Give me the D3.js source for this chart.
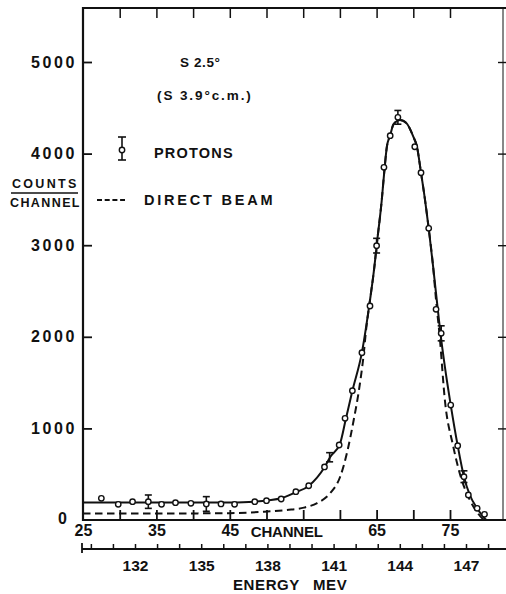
<!DOCTYPE html>
<html>
<head>
<meta charset="utf-8">
<script src="https://cdn.jsdelivr.net/npm/d3@7"></script>
<style>
  html, body { margin: 0; padding: 0; background: #fff; }
  svg { display: block; }
  text { font-family: "Liberation Sans", Arial, sans-serif; font-weight: bold; fill: #111; }
</style>
</head>
<body>
<svg id="chart" width="506" height="594"></svg>
<script>
// Channel (upper) and energy (lower) axis ticks
const channelTicks = [30, 35, 40, 45, 50, 55, 60, 65, 70, 75];
const channelLabels = [25, 35, 45, 65, 75];
const countTicks = [0, 1000, 2000, 3000, 4000, 5000];
const energyTicks = [130, 131, 132, 133, 134, 135, 136, 137, 138, 139, 140, 141, 142, 143, 144, 145, 146, 147, 148];
const energyLabels = [132, 135, 138, 141, 144, 147];

// Measured proton spectrum (counts per channel)
const protonChannel = [27.5, 29.8, 31.75, 33.9, 35.7, 37.6, 39.7, 41.8, 43.8, 45.65,
  48.4, 50.0, 52.0, 54.0, 55.75, 57.9, 59.9, 60.7, 61.7, 63.0, 64.1, 65.0, 66.0,
  66.85, 67.9, 70.2, 71.05, 72.1, 73.1, 73.8, 75.1, 76.05, 76.9, 77.5, 78.7, 79.7];
const protonCounts = [237, 171, 200, 200, 171, 189, 182, 175, 175, 171,
  200, 211, 229, 309, 374, 579, 819, 1110, 1412, 1826, 2336, 2995, 3850,
  4196, 4396, 4075, 3792, 3184, 2300, 2038, 1255, 811, 473, 273, 128, 62];

// Statistical error bars on selected points
const errChannel = [33.9, 41.8, 58.6, 65.0, 67.9, 73.8, 76.9];
const errCounts = [200, 175, 685, 2995, 4396, 2038, 473];
const errSize = [73, 80, 50, 80, 75, 82, 64];

// Smooth curve drawn through the proton points
const fitChannel = [25, 30, 35, 40, 45, 48.3, 50.1, 52, 53.9, 55.75, 57.9, 58.7, 60, 60.8,
  61.7, 63, 64.1, 64.7, 65, 65.7, 66.1, 66.4, 66.85, 67.3, 68.2, 69.1, 70, 70.5, 71.05,
  71.6, 72.1, 72.7, 73.2, 73.7, 74.3, 75.1, 76.05, 76.9, 77.7, 78.7, 79.7, 79.95];
const fitCounts = [190, 190, 190, 190, 192, 200, 215, 237, 300, 372, 575, 690, 830, 1100,
  1410, 1830, 2400, 2765, 2990, 3490, 3850, 4075, 4200, 4320, 4367, 4330, 4184, 4075, 3792,
  3493, 3184, 2765, 2400, 2038, 1674, 1255, 811, 473, 273, 128, 19, 0];

// Direct beam profile (dashed)
const beamChannel = [25, 30, 35, 40, 45, 49.6, 52.8, 55.1, 56.9, 58.7, 60.05, 61, 61.9,
  62.6, 63.2, 63.6, 64.1, 64.7, 65, 65.7, 66.1, 66.4, 66.85, 67.3, 68.2, 69.1, 70, 70.5,
  71.05, 71.6, 72.1, 72.7, 73.1, 73.6, 74.3, 75.4, 76.6, 77.7, 78.8, 79.6];
const beamCounts = [70, 70, 70, 72, 75, 90, 110, 135, 185, 295, 475, 745, 1100,
  1420, 1780, 2100, 2400, 2765, 2990, 3490, 3850, 4075, 4200, 4320, 4367, 4330, 4184, 4075,
  3792, 3493, 3184, 2765, 2400, 2000, 1310, 819, 437, 218, 73, 0];

const svg = d3.select("#chart");

const x = d3.scaleLinear().domain([25, 75]).range([83, 450]);
const y = d3.scaleLinear().domain([0, 5000]).range([520, 62]);
const e = d3.scaleLinear().domain([132, 147]).range([135, 466]);

const frameTop = 8, frameBottom = 520, frameLeft = 83, frameRight = 503;

// Frame
const frame = svg.append("g").attr("stroke", "#111").attr("fill", "none");
frame.append("line").attr("x1", frameLeft).attr("x2", frameLeft).attr("y1", frameTop - 1).attr("y2", frameBottom + 1).attr("stroke-width", 2.2);
frame.append("line").attr("x1", frameLeft).attr("x2", 506).attr("y1", frameTop).attr("y2", frameTop).attr("stroke-width", 2);
frame.append("line").attr("x1", frameLeft).attr("x2", 506).attr("y1", frameBottom).attr("y2", frameBottom).attr("stroke-width", 2.2);
frame.append("line").attr("x1", frameRight).attr("x2", frameRight).attr("y1", frameTop).attr("y2", frameBottom).attr("stroke-width", 1);

function styleAxis(g, fontSize) {
  g.select(".domain").remove();
  g.selectAll(".tick line").attr("stroke", "#111").attr("stroke-width", 1.8);
  g.selectAll(".tick text").attr("fill", "#111")
    .style("font-family", '"Liberation Sans", Arial, sans-serif')
    .style("font-weight", "bold").style("font-size", fontSize + "px");
}

// Left count axis (ticks point inward)
svg.append("g").attr("transform", `translate(${frameLeft},0)`)
  .call(d3.axisLeft(y).tickValues(countTicks.filter(d => d > 0)).tickSizeInner(-9).tickSizeOuter(0).tickPadding(6).tickFormat(d3.format("d")))
  .call(g => styleAxis(g, 16))
  .call(g => g.selectAll(".tick text").style("letter-spacing", "2.6px"));
svg.append("g").attr("transform", `translate(${frameLeft},0)`)
  .call(d3.axisLeft(y).tickValues([0]).tickSize(0).tickPadding(16).tickFormat(d3.format("d")))
  .call(g => styleAxis(g, 16))
  .call(g => g.selectAll(".tick text").attr("dy", "0.2em"));

// Right-side count ticks
svg.append("g").attr("transform", "translate(506,0)")
  .call(d3.axisLeft(y).tickValues(countTicks.filter(d => d > 0)).tickSize(8).tickFormat(""))
  .call(g => styleAxis(g, 12))
  .call(g => g.selectAll(".tick line").attr("stroke-width", 1.4));

// Top channel ticks
svg.append("g").attr("transform", `translate(0,${frameTop})`)
  .call(d3.axisTop(x).tickValues(channelTicks).tickSizeInner(-10).tickFormat(""))
  .call(g => styleAxis(g, 12))
  .call(g => g.selectAll(".tick line").attr("stroke-width", 1.5));

// Bottom channel axis
svg.append("g").attr("transform", `translate(0,${frameBottom})`)
  .call(d3.axisBottom(x).tickValues(channelTicks).tickSizeInner(-10).tickFormat(""))
  .call(g => styleAxis(g, 16));
svg.append("g").attr("transform", `translate(0,${frameBottom})`)
  .call(d3.axisBottom(x).tickValues(channelLabels).tickSize(0).tickPadding(5).tickFormat(d3.format("d")))
  .call(g => styleAxis(g, 16));
svg.append("text").attr("x", x(45) + 21).attr("y", 537)
  .style("font-size", "15px").style("letter-spacing", "-0.2px").text("CHANNEL");

// Energy axis
const energyY = 549;
svg.append("line").attr("x1", 82).attr("x2", 506).attr("y1", energyY).attr("y2", energyY)
  .attr("stroke", "#111").attr("stroke-width", 2);
svg.append("line").attr("x1", 82).attr("x2", 82).attr("y1", energyY - 6).attr("y2", energyY + 4)
  .attr("stroke", "#111").attr("stroke-width", 1.8);
svg.append("g").attr("transform", `translate(0,${energyY})`)
  .call(d3.axisBottom(e).tickValues(energyTicks).tickSizeInner(-5).tickSizeOuter(0).tickPadding(11)
    .tickFormat(d => energyLabels.includes(d) ? d : ""))
  .call(g => styleAxis(g, 15.5))
  .call(g => g.selectAll(".tick line").attr("stroke-width", 1.5));
const eLabel = svg.append("text").attr("x", 233).attr("y", 590).style("font-size", "15px").style("letter-spacing", "0.6px");
eLabel.append("tspan").text("ENERGY");
eLabel.append("tspan").attr("dx", 13).text("MEV");

// Y-axis title as a fraction
svg.append("text").attr("x", 12).attr("y", 188).style("font-size", "12.5px").style("letter-spacing", "2.3px").text("COUNTS");
svg.append("line").attr("x1", 11).attr("x2", 78).attr("y1", 193).attr("y2", 193).attr("stroke", "#111").attr("stroke-width", 1.6);
svg.append("text").attr("x", 10).attr("y", 207).style("font-size", "12.5px").style("letter-spacing", "1.4px").text("CHANNEL");

// Annotations
svg.append("text").attr("x", 180).attr("y", 67).style("font-size", "13.5px").style("letter-spacing", "0.6px").text("S 2.5°");
svg.append("text").attr("x", 157).attr("y", 100).style("font-size", "13.5px").style("letter-spacing", "1.9px").text("(S 3.9°c.m.)");

// Legend
const leg = svg.append("g").attr("stroke", "#111").attr("fill", "none").attr("stroke-width", 1.6);
leg.append("line").attr("x1", 122).attr("x2", 122).attr("y1", 137).attr("y2", 160);
leg.append("line").attr("x1", 118).attr("x2", 126).attr("y1", 137).attr("y2", 137);
leg.append("line").attr("x1", 118).attr("x2", 126).attr("y1", 160).attr("y2", 160);
leg.append("circle").attr("cx", 122).attr("cy", 150).attr("r", 2.7).attr("fill", "#fff").attr("stroke-width", 1.4);
svg.append("text").attr("x", 154).attr("y", 158).style("font-size", "14.5px").style("letter-spacing", "1.2px").text("PROTONS");
leg.append("line").attr("x1", 97).attr("x2", 125).attr("y1", 200).attr("y2", 200).attr("stroke-dasharray", "5,2.7").attr("stroke-width", 1.8);
svg.append("text").attr("x", 144).attr("y", 205).style("font-size", "14.5px").style("letter-spacing", "2.8px").text("DIRECT BEAM");

// Curves
const line = d3.line().x(d => x(d[0])).y(d => y(d[1])).curve(d3.curveMonotoneX);
svg.append("path").datum(d3.zip(beamChannel, beamCounts)).attr("d", line)
  .attr("fill", "none").attr("stroke", "#111").attr("stroke-width", 2).attr("stroke-dasharray", "7.5,4.5");
svg.append("path").datum(d3.zip(fitChannel, fitCounts)).attr("d", line)
  .attr("fill", "none").attr("stroke", "#111").attr("stroke-width", 2);

// Error bars
const eb = svg.append("g").attr("stroke", "#111").attr("stroke-width", 1.6);
errChannel.forEach((c, i) => {
  const cx = x(c), y1 = y(errCounts[i] + errSize[i]), y2 = y(errCounts[i] - errSize[i]);
  eb.append("line").attr("x1", cx).attr("x2", cx).attr("y1", y1).attr("y2", y2);
  eb.append("line").attr("x1", cx - 3.5).attr("x2", cx + 3.5).attr("y1", y1).attr("y2", y1);
  eb.append("line").attr("x1", cx - 3.5).attr("x2", cx + 3.5).attr("y1", y2).attr("y2", y2);
});

// Proton points
svg.append("g").selectAll("circle").data(d3.zip(protonChannel, protonCounts)).join("circle")
  .attr("cx", d => x(d[0])).attr("cy", d => y(d[1])).attr("r", 2.7)
  .attr("fill", "#fff").attr("stroke", "#111").attr("stroke-width", 1.4);
</script>
</body>
</html>
